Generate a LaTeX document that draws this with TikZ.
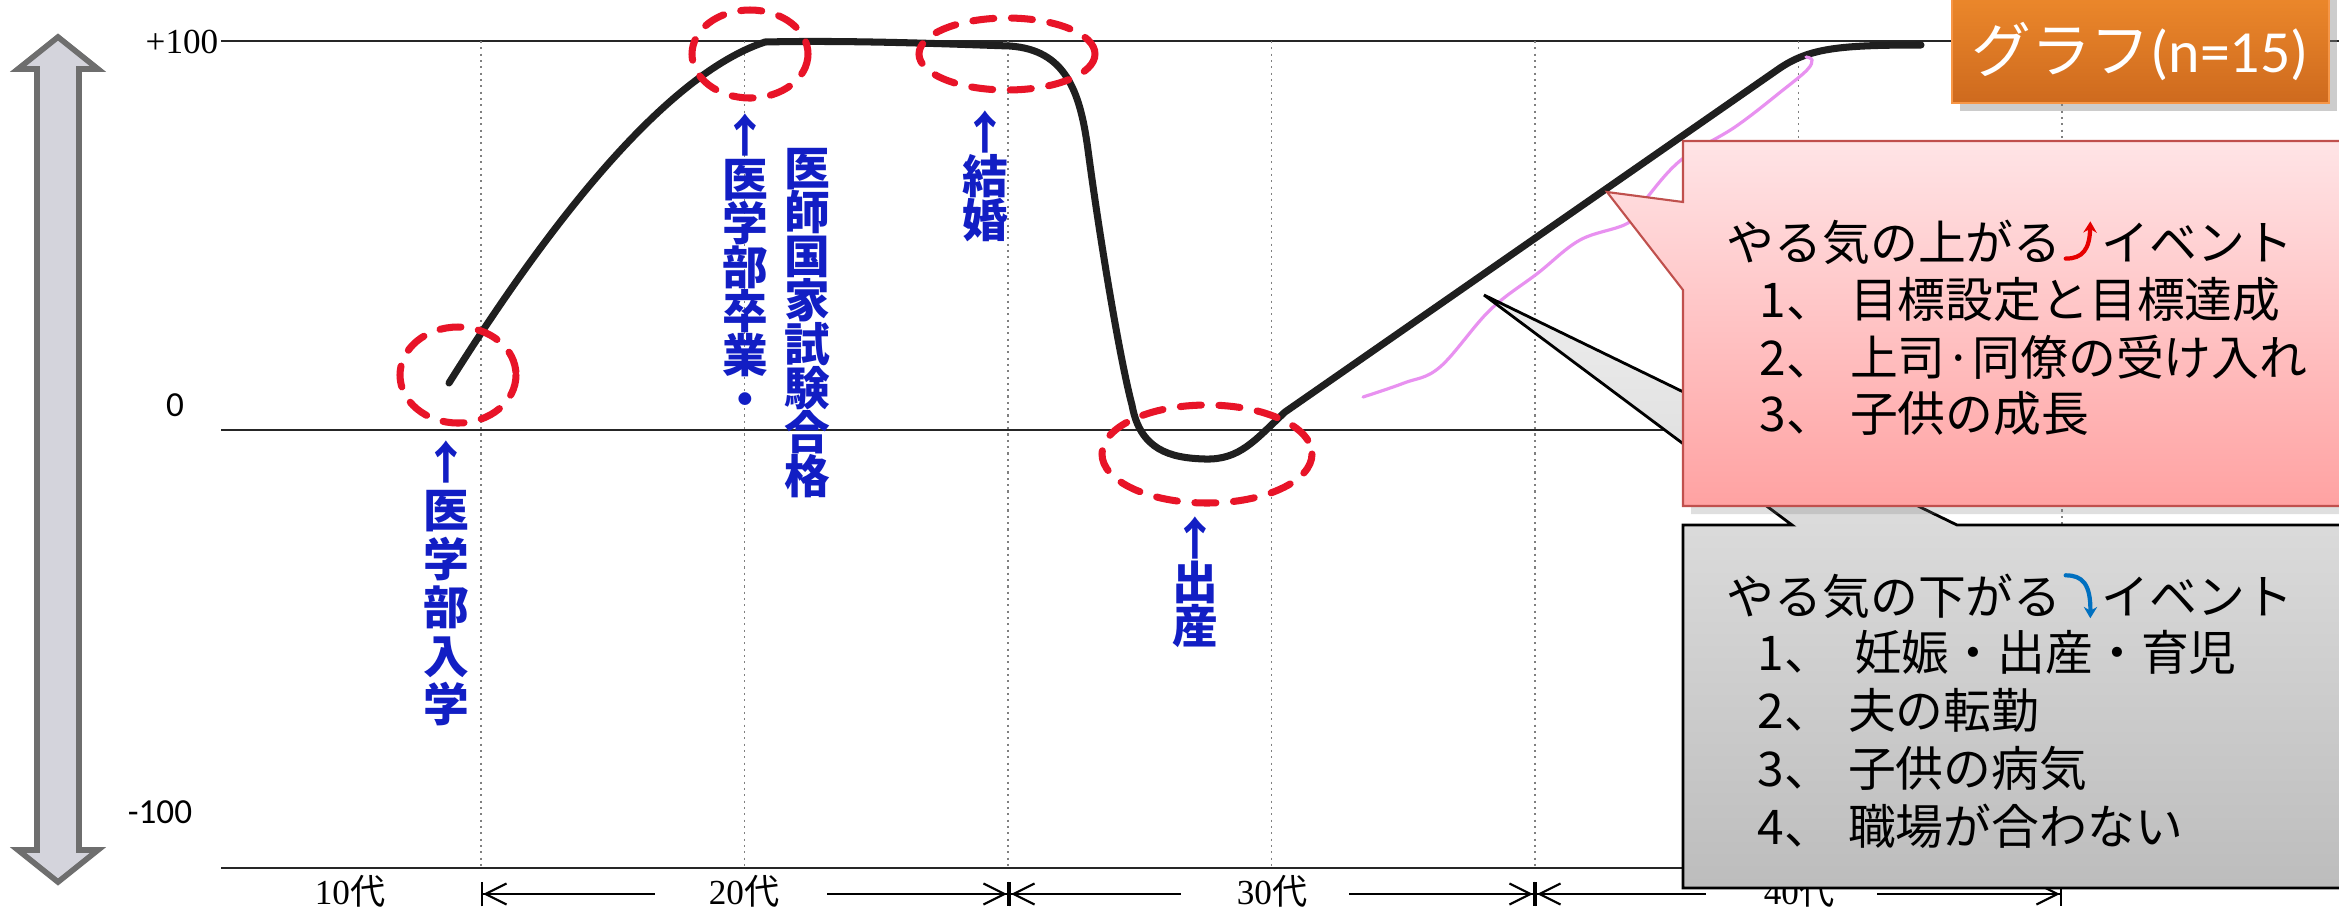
\documentclass[tikz,border=0pt]{standalone}
\usepackage{fontspec}
\setmainfont{Liberation Serif}
\newfontfamily\jpfont{Noto Sans CJK JP}
\newfontfamily\calfont{Carlito}
\usetikzlibrary{arrows.meta,shadows}

\definecolor{handblue}{RGB}{18,30,196}
\definecolor{ringred}{RGB}{232,20,40}
\definecolor{pinkpen}{RGB}{232,145,240}
\definecolor{upred}{RGB}{230,0,0}
\definecolor{dnblue}{RGB}{0,112,192}
\definecolor{titletop}{RGB}{240,140,45}
\definecolor{titlebot}{RGB}{206,106,30}
\definecolor{titleedge}{RGB}{247,150,70}
\definecolor{uptop}{RGB}{255,228,230}
\definecolor{upbot}{RGB}{255,162,162}
\definecolor{upedge}{RGB}{192,80,77}
\definecolor{arrowfill}{RGB}{212,212,220}
\definecolor{arrowedge}{RGB}{110,110,110}

\newcommand{\jcomma}{、\kern1.6mm}
% curved arrows (no font has them)
\newcommand{\risearrow}{\tikz[x=1pt,y=1pt,baseline=0pt]{\path (0,0) rectangle (11.4,9);
  \draw[upred,line width=1.2pt,line cap=round,-{Stealth[length=3.2pt,width=3.8pt]}]
  (1.2,0.4) .. controls (6,0.4) and (8,3) .. (8.2,11);}}
\newcommand{\fallarrow}{\tikz[x=1pt,y=1pt,baseline=0pt]{\path (0,0) rectangle (11.4,9);
  \draw[dnblue,line width=1.2pt,line cap=round,-{Stealth[length=3.2pt,width=3.8pt]}]
  (1.2,11) .. controls (6,11) and (8.3,8.5) .. (8.2,-1.2);}}

\begin{document}
\begin{tikzpicture}[x=0.01cm,y=-0.01cm,
    hand/.style={text=handblue,font=\jpfont\bfseries\fontsize{13pt}{#1}\selectfont,
      align=center,inner sep=0pt,anchor=north},
    hand/.default=12.5pt,
    evt/.style={font=\jpfont\fontsize{13.6pt}{16pt}\selectfont,anchor=base west,inner sep=0pt},
    seriflbl/.style={font=\fontsize{10pt}{12pt}\selectfont,inner sep=0pt},
    sanslbl/.style={font=\calfont\fontsize{10pt}{12pt}\selectfont,inner sep=0pt},
    axis/.style={line width=0.6pt,black!85},
    grid/.style={gray,line width=0.5pt,dash pattern=on 0.6pt off 1.2pt},
    lifeline/.style={line width=2pt,black!88,line cap=round,line join=round},
    redring/.style={draw=ringred,line width=2pt,dash pattern=on 6pt off 5pt,line cap=round},
    agestart/.style={{Bar[width=7pt,sep=0pt]Straight Barb[length=6pt,width=6pt,sep=0pt]}-,line width=0.6pt},
    ageend/.style={-{Straight Barb[length=6pt,width=6pt,sep=0pt]Bar[width=7pt,sep=0pt]},line width=0.6pt},
    updown/.style={fill=arrowfill,draw=arrowedge,line width=1.6pt,line join=miter},
    upbox/.style={top color=uptop,bottom color=upbot,draw=upedge,line width=0.6pt,
      drop shadow={opacity=0.25}},
    downbox/.style={top color=black!7,bottom color=black!26,draw=black,line width=0.8pt},
    titlebox/.style={top color=titletop,bottom color=titlebot,draw=titleedge,line width=0.8pt,
      drop shadow={opacity=0.4}}]

  \useasboundingbox (0,0) rectangle (2339,908);
  \clip (0,0) rectangle (2339,908);
  \fill[white] (0,0) rectangle (2339,908);

  % scale arrow
  \draw[updown] (58,37) -- (98,69) -- (79,69) -- (79,850) -- (98,850) -- (58,882)
    -- (18,850) -- (37,850) -- (37,69) -- (18,69) -- cycle;

  \node[seriflbl,anchor=east] (p100) at (219,42) {+100};
  \node[sanslbl] (zero) at (175,405) {0};
  \node[sanslbl] (m100) at (160,812) {-100};

  \draw[axis] (221,41) -- (2339,41);
  \draw[axis] (221,430) -- (2339,430);
  \draw[axis] (221,868) -- (2339,868);
  \foreach \k in {0,...,6}
    \draw[grid] ({481+263.5*\k},41) -- ({481+263.5*\k},868);

  % ages
  \node[seriflbl] (age10) at (350,891) {10{\jpfont 代}};
  \node[seriflbl] (age20) at (744,891) {20{\jpfont 代}};
  \node[seriflbl] (age30) at (1272,891) {30{\jpfont 代}};
  \node[seriflbl] (age40) at (1799,891) {40{\jpfont 代}};
  \coordinate (t1) at (481,894);
  \coordinate (t2) at (1009,894);
  \coordinate (t3) at (1535,894);
  \coordinate (t4) at (2062,894);
  \coordinate (a1) at (655,894);
  \coordinate (a2) at (827,894);
  \coordinate (a3) at (1181,894);
  \coordinate (a4) at (1349,894);
  \coordinate (a5) at (1706,894);
  \coordinate (a6) at (1877,894);
  \draw[agestart] (t1) -- (a1);
  \draw[ageend] (a2) -- (t2);
  \draw[agestart] (t2) -- (a3);
  \draw[ageend] (a4) -- (t3);
  \draw[agestart] (t3) -- (a5);
  \draw[ageend] (a6) -- (t4);

  % curves
  \draw[lifeline] (449,383) .. controls (520,270) and (650,80) .. (765,42)
    .. controls (850,40) and (950,44) .. (1010,46)
    .. controls (1065,50) and (1080,90) .. (1088,150)
    .. controls (1100,240) and (1120,360) .. (1132,405)
    .. controls (1140,450) and (1170,458) .. (1205,459)
    .. controls (1240,460) and (1255,440) .. (1285,412)
    -- (1780,68)
    .. controls (1810,48) and (1840,45) .. (1921,45);
  \draw[pinkpen,line width=0.9pt,line cap=round] plot[smooth,tension=0.6] coordinates {
    (1363,397) (1404,383) (1440,367) (1490,310) (1538,273) (1580,240) (1628,223)
    (1645,200) (1681,160) (1735,127) (1783,90) (1807,70) (1812,60) (1806,57)};

  \draw[redring] (458,375) ellipse [x radius=58,y radius=48];
  \draw[redring] (750,54) ellipse [x radius=58,y radius=44];
  \draw[redring] (1007,54) ellipse [x radius=88,y radius=36];
  \draw[redring] (1207,454) ellipse [x radius=105,y radius=49];

  \node[hand=13.8pt] (nyugaku) at (446,440) {↑\\医\\学\\部\\入\\学};
  \node[hand] (sotsugyo) at (745,113) {↑\\医\\学\\部\\卒\\業\\・};
  \node[hand] (kokushi) at (807,148) {医\\師\\国\\家\\試\\験\\合\\格};
  \node[hand] (kekkon) at (985,110) {↑\\結\\婚};
  \node[hand] (shussan) at (1195,516) {↑\\出\\産};

  % callouts
  \path[downbox] (1683,525) -- (1792,525) -- (1484,295) -- (1957,525) -- (2420,525)
    -- (2420,888) -- (1683,888) -- cycle;
  \node[evt] (dn0) at (1726,614) {やる気の下がる\fallarrow イベント};
  \node[evt] (dn1) at (1757,670) {1\jcomma\kern0.6mm 妊娠・出産・育児};
  \node[evt] (dn2) at (1757,728) {2\jcomma 夫の転勤};
  \node[evt] (dn3) at (1757,786) {3\jcomma 子供の病気};
  \node[evt] (dn4) at (1757,844) {4\jcomma 職場が合わない};

  \path[upbox] (1683,141) -- (2420,141) -- (2420,506) -- (1683,506) -- (1683,290)
    -- (1607,192) -- (1683,202) -- cycle;
  \node[evt] (up0) at (1726,260) {やる気の上がる\risearrow イベント};
  \node[evt] (up1) at (1759,317) {1\jcomma 目標設定と目標達成};
  \node[evt] (up2) at (1759,375) {2\jcomma 上司·同僚の受け入れ};
  \node[evt] (up3) at (1759,431) {3\jcomma 子供の成長};

  \path[titlebox] (1952,-20) rectangle (2329,103);
  \node[text=white,font=\jpfont\fontsize{17pt}{19pt}\selectfont,anchor=base,inner sep=0pt]
    (title) at (2140,72) {グラフ{\calfont(n=15)}};
\end{tikzpicture}
\end{document}
